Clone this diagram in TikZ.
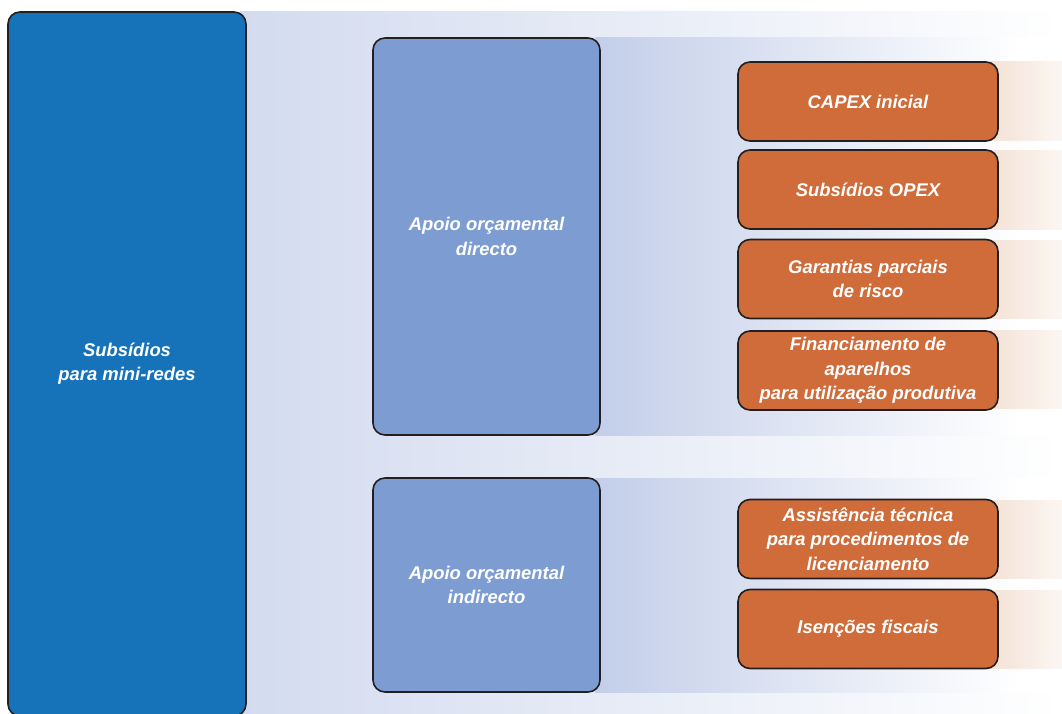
\documentclass[tikz,border=0pt]{standalone}
\usepackage{fontspec}
\setmainfont{Liberation Sans}
\definecolor{darkblue}{HTML}{1673B9}
\definecolor{midblue}{HTML}{7D9DD2}
\definecolor{orangebox}{HTML}{D06B3A}
\definecolor{edge}{HTML}{231F20}
\definecolor{bandA}{HTML}{D3DBEF}
\definecolor{bandB}{HTML}{C3CEE9}
\definecolor{bandC}{HTML}{F4E2D6}
\tikzset{
  boxbase/.style={draw=edge, line width=1.2pt, rounded corners=9pt, text=white,
    font=\fontsize{13.8}{18.2}\selectfont\bfseries\itshape, align=center, inner sep=2pt},
  bigbox/.style={boxbase, fill=darkblue, minimum width=178.5pt, minimum height=528pt},
  midbox/.style={boxbase, fill=midblue, minimum width=170.25pt},
  orbox/.style={boxbase, fill=orangebox, minimum width=195pt, minimum height=59.25pt},
}
\begin{document}
\begin{tikzpicture}[x=0.75pt,y=-0.75pt]
\useasboundingbox (0,0) rectangle (1062,713);
\fill[white] (0,0) rectangle (1062,713);
% background bands
\shade[left color=bandA, right color=white] (240,12) rectangle (1062,713);
\shade[left color=bandB, right color=white] (595,38) rectangle (1020,435);
\fill[white] (1019,38) rectangle (1062,435);
\shade[left color=bandB, right color=white] (595,478) rectangle (1020,692);
\fill[white] (1019,478) rectangle (1062,692);
\foreach \ya/\yb in {62/141,150/229,240/318,330/408,500/578,590/668}{
  \shade[left color=bandC, right color=white!70!bandC] (990,\ya) rectangle (1062,\yb);
}
% boxes
\node[bigbox] (main) at (127,364) {Subsídios\\para mini-redes};
\node[midbox, minimum height=297.75pt] (direct) at (486.5,236.5) {Apoio orçamental\\directo};
\node[midbox, minimum height=160.5pt] (indirect) at (486.5,585) {Apoio orçamental\\indirecto};
\node[orbox] (capex) at (868,101.5) {CAPEX inicial};
\node[orbox] (opex) at (868,189.5) {Subsídios OPEX};
\node[orbox] (garant) at (868,279) {Garantias parciais\\de risco};
\node[orbox] (financ) at (868,370.5) {Financiamento de\\aparelhos\\para utilização produtiva};
\node[orbox] (assist) at (868,539) {Assistência técnica\\para procedimentos de\\licenciamento};
\node[orbox] (isencoes) at (868,629) {Isenções fiscais};
\end{tikzpicture}
\end{document}
